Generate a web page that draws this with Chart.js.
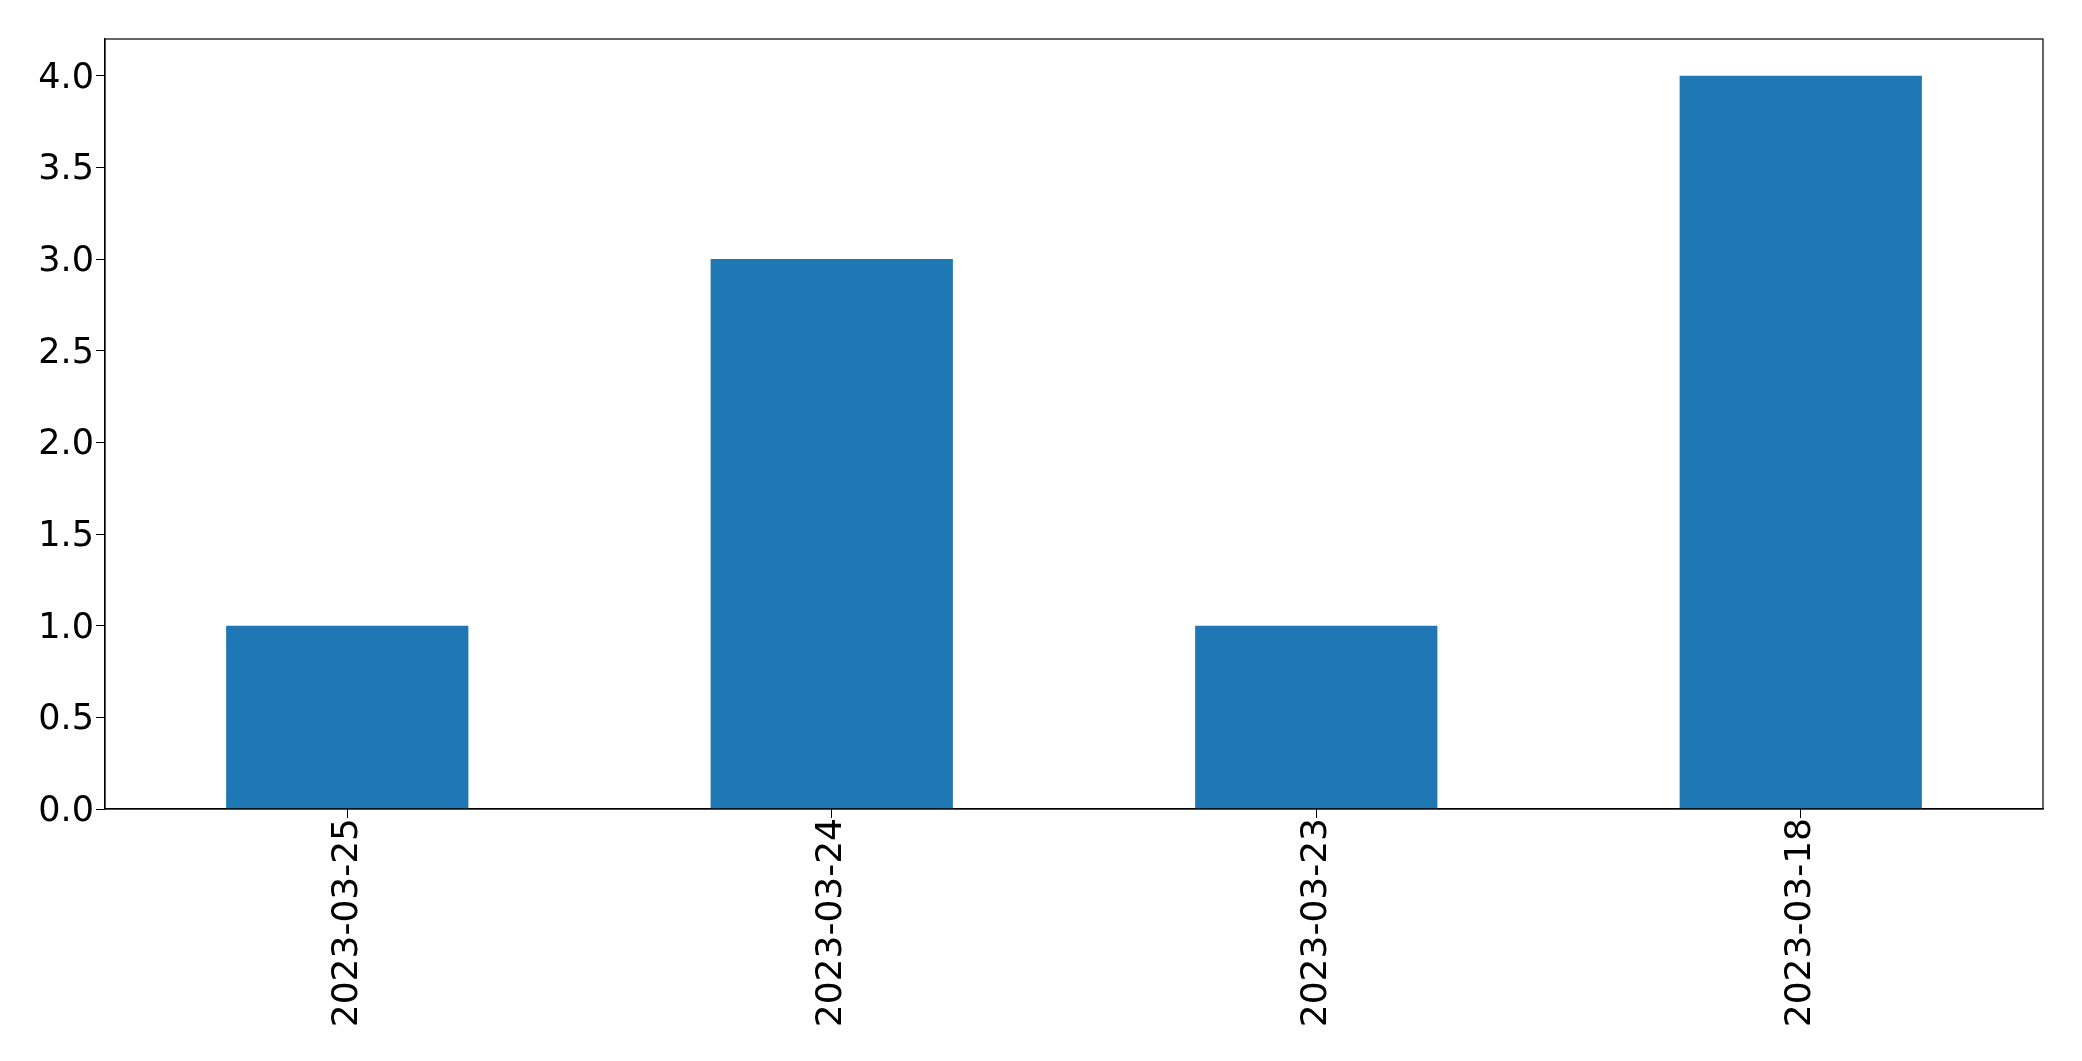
<!DOCTYPE html>
<html><head><meta charset="utf-8">
<script src="https://cdn.jsdelivr.net/npm/chart.js@4/dist/chart.umd.min.js"></script>
<style>html,body{margin:0;padding:0;background:#fff;}#wrap{width:2082px;height:1061px;}</style>
</head><body><div id="wrap"><canvas id="c" width="2082" height="1061"></canvas></div>
<script>
const categories = ["2023-03-25", "2023-03-24", "2023-03-23", "2023-03-18"];
const counts = [1, 3, 1, 4];
const yTicks = [0, 0.5, 1, 1.5, 2, 2.5, 3, 3.5, 4];

const frame = {
  id: 'frame',
  afterDatasetsDraw(chart) {
    const a = chart.chartArea, ctx = chart.ctx;
    ctx.save();
    ctx.strokeStyle = '#000'; ctx.lineWidth = 1.2;
    ctx.strokeRect(a.left, a.top, a.right - a.left, a.bottom - a.top);
    ctx.restore();
  }
};

new Chart(document.getElementById('c'), {
  type: 'bar',
  data: { labels: categories, datasets: [{ data: counts, backgroundColor: '#1f77b4', barPercentage: 0.5, categoryPercentage: 1.0 }] },
  options: {
    responsive: false, animation: false,
    layout: { padding: { left: 0, top: 39, right: 39, bottom: 0 } },
    plugins: { legend: { display: false }, tooltip: { enabled: false } },
    scales: {
      x: {
        offset: true,
        grid: { drawOnChartArea: false, drawTicks: true, tickLength: 9, color: '#000', offset: false },
        border: { display: true, color: '#000', width: 1.2 },
        ticks: { color: '#000', font: { family: 'DejaVu Sans', size: 36 }, maxRotation: 90, minRotation: 90, padding: 0 },
        afterFit(s) { s.height = 252; }
      },
      y: {
        min: 0, max: 4.2,
        afterBuildTicks(s) { s.ticks = yTicks.map(v => ({ value: v })); },
        grid: { drawOnChartArea: false, drawTicks: true, tickLength: 9, color: '#000' },
        border: { display: true, color: '#000', width: 1.2 },
        ticks: { color: '#000', font: { family: 'DejaVu Sans', size: 35 }, padding: 2, labelOffset: 3, callback: v => Number(v).toFixed(1) },
        afterFit(s) { s.width = 105; }
      }
    }
  },
  plugins: [frame]
});
</script></body></html>
